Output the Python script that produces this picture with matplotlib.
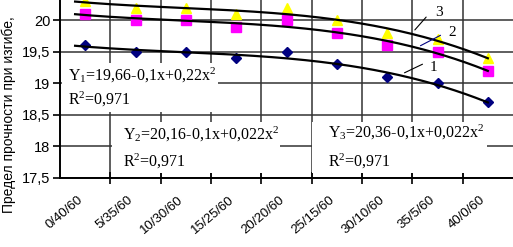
import numpy as np
import matplotlib
matplotlib.use("Agg")
import matplotlib.pyplot as plt
from matplotlib.patches import Rectangle
from matplotlib.transforms import ScaledTranslation

plt.rcParams['font.family'] = ['Liberation Sans', 'DejaVu Sans']
plt.rcParams['mathtext.fontset'] = 'custom'
plt.rcParams['mathtext.rm'] = 'Liberation Serif'
plt.rcParams['mathtext.default'] = 'regular'

# --- data ---
categories = ['0/40/60', '5/35/60', '10/30/60', '15/25/60', '20/20/60',
              '25/15/60', '30/10/60', '35/5/60', '40/0/60']
series1 = [19.6, 19.5, 19.5, 19.4, 19.5, 19.3, 19.1, 19.0, 18.7]
series2 = [20.1, 20.0, 20.0, 19.9, 20.0, 19.8, 19.6, 19.5, 19.2]
series3 = [20.3, 20.2, 20.2, 20.1, 20.2, 20.0, 19.8, 19.7, 19.4]
yticks = [17.5, 18, 18.5, 19, 19.5, 20]
equations = [r'Y$_1$=19,66-0,1x+0,22x$^2$',
             r'Y$_2$=20,16-0,1x+0,022x$^2$',
             r'Y$_3$=20,36-0,1x+0,022x$^2$']
r2_text = r'R$^2$=0,971'
ylabel = 'Предел прочности при изгибе,'

W, H = 513, 247
AX_L, AX_R, AX_B, AX_T = 60, 513, 178, 0


def axfrac(px, py):
    # image pixel -> axes fraction
    return (px - AX_L) / (AX_R - AX_L), (AX_B - py) / (AX_B - AX_T)


fig = plt.figure(figsize=(W / 100, H / 100), dpi=100)
ax = fig.add_axes([AX_L / W, 1 - AX_B / H, (AX_R - AX_L) / W, (AX_B - AX_T) / H])

x = np.arange(len(categories))
ax.set_xlim(-0.5, len(categories) - 0.5)
ax.set_ylim(17.5, 20.32)

# markers
ax.plot(x, series3, linestyle='none', marker='^', ms=7, color='#FFFF00', zorder=3)
ax.plot(x, series2, linestyle='none', marker='s', ms=6.5, color='#FF00FF', zorder=3.2)
ax.plot(x, series1, linestyle='none', marker='D', ms=5.5, color='#000080', zorder=3.2)

# polynomial trend lines fitted to the points
xs = np.linspace(-0.2, len(categories) - 1, 200)
for s in (series1, series2, series3):
    coef = np.polyfit(x, s, 3)
    ax.plot(xs, np.polyval(coef, xs), color='black', lw=1.6, zorder=4)

# axes styling
ax.set_yticks(yticks)
ax.set_yticklabels([f'{v:g}'.replace('.', ',') for v in yticks])
ax.set_xticks(x)
ax.set_xticklabels(categories, rotation=40, ha='right', va='center',
                   rotation_mode='anchor')
ax.set_xticks(np.arange(len(categories) - 1) + 0.5, minor=True)
ax.tick_params(axis='x', which='major', length=0, pad=15, labelsize=9.5)
ax.tick_params(axis='x', which='minor', direction='inout', length=9, width=1.2)
ax.tick_params(axis='y', direction='out', length=5, width=1.2, labelsize=10.5, pad=2)
off = ScaledTranslation(-4 / 100, 0, fig.dpi_scale_trans)
for lab in ax.get_xticklabels():
    lab.set_transform(lab.get_transform() + off)

ax.set_axisbelow(True)
ax.grid(axis='y', which='major', color='#333333', lw=1.1)
ax.grid(axis='x', which='minor', color='#333333', lw=1.1)
for sp in ('top', 'right'):
    ax.spines[sp].set_visible(False)
for sp in ('left', 'bottom'):
    ax.spines[sp].set_linewidth(1.4)

# equation boxes (white background hides the grid)
boxes = [(62, 63, 218, 112), (112, 122, 280, 173), (312, 122, 487, 173)]
eq_pos = [((68, 75), (68, 99)), ((123, 134), (123, 161)), ((328, 132), (328, 161))]
for (x0, y0, x1, y1), eq, (p1, p2) in zip(boxes, equations, eq_pos):
    bx, by = axfrac(x0, y1)
    bw = (x1 - x0) / (AX_R - AX_L)
    bh = (y1 - y0) / (AX_B - AX_T)
    ax.add_patch(Rectangle((bx, by), bw, bh, transform=ax.transAxes,
                           facecolor='white', edgecolor='none', zorder=1))
    ax.text(*axfrac(*p1), eq, transform=ax.transAxes, va='center', ha='left',
            family='Liberation Serif', fontsize=11.5, zorder=5)
    ax.text(*axfrac(*p2), r2_text, transform=ax.transAxes, va='center', ha='left',
            family='Liberation Serif', fontsize=11.5, zorder=5)

# curve number labels with leader lines
leaders = [('3', (435, 12), (428, 15), (413, 32), 'black'),
           ('2', (448, 33), (443, 34), (418, 47), '#000080'),
           ('1', (430, 67), (425, 63), (402, 74), 'black')]
for name, tp, a, b, col in leaders:
    ax.text(*axfrac(*tp), name, transform=ax.transAxes, ha='left', va='center',
            family='Liberation Serif', fontsize=11, zorder=5)
    ax.annotate('', xy=axfrac(*b), xytext=axfrac(*a), xycoords='axes fraction',
                textcoords='axes fraction',
                arrowprops=dict(arrowstyle='-', color=col, lw=0.8), zorder=5)

fig.text(8.5 / W, 1 - 213 / H, ylabel, rotation=90, ha='center', va='bottom',
         fontsize=10)

fig.savefig('out.png', dpi=100)
